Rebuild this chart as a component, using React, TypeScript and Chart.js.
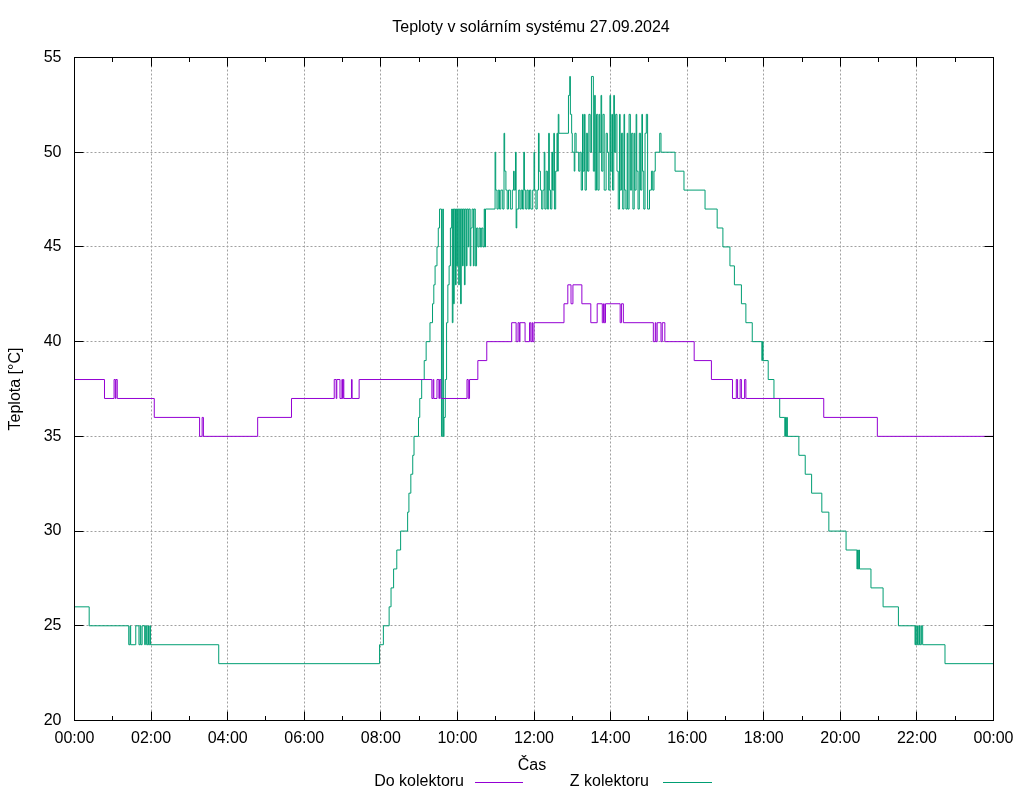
import React, { useEffect, useRef } from "react";
import { Chart, registerables } from "chart.js";

Chart.register(...registerables);

const chartTitle = "Teploty v solárním systému 27.09.2024";
const xAxisTitle = "Čas";
const yAxisTitle = "Teplota [°C]";
const seriesNames = ["Do kolektoru", "Z kolektoru"];
const seriesColors = ["#9400d3", "#009e73"];

const xTickHours = [0, 2, 4, 6, 8, 10, 12, 14, 16, 18, 20, 22, 24];
const xTickLabels = ["00:00", "02:00", "04:00", "06:00", "08:00", "10:00", "12:00", "14:00", "16:00", "18:00", "20:00", "22:00", "00:00"];
const xMinorHours = [1, 3, 5, 7, 9, 11, 13, 15, 17, 19, 21, 23];
const yTickValues = [20, 25, 30, 35, 40, 45, 50, 55];

// "Do kolektoru" – time of change, new value (°C)
const doKolektoru: [string, number][] = [
  ["00:00", 38], ["00:47", 37], ["01:02", 38], ["01:04", 37], ["01:05", 38], ["01:07", 37],
  ["02:05", 36], ["03:16", 35], ["03:20", 36], ["03:22", 35], ["04:47", 36], ["05:40", 37],
  ["06:47", 38], ["06:50", 37], ["06:51", 38], ["06:56", 37], ["06:59", 38], ["07:00", 37],
  ["07:01", 38], ["07:02", 37], ["07:14", 38], ["07:15", 37], ["07:26", 38],
  ["09:20", 37], ["09:22", 38], ["09:23", 37], ["09:28", 38], ["09:31", 37], ["09:32", 38], ["09:34", 37],
  ["10:15", 38], ["10:17", 37], ["10:19", 38], ["10:32", 39], ["10:46", 40],
  ["11:25", 41], ["11:32", 40], ["11:35", 41], ["11:37", 40], ["11:38", 41], ["11:46", 40],
  ["11:53", 41], ["11:55", 40], ["11:57", 41], ["11:58", 40], ["12:00", 41],
  ["12:47", 42], ["12:53", 43], ["12:58", 42], ["13:01", 43], ["13:15", 42], ["13:29", 41],
  ["13:39", 42], ["13:47", 41], ["13:49", 42], ["13:50", 41], ["13:52", 42],
  ["14:15", 41], ["14:17", 42], ["14:20", 41],
  ["15:07", 40], ["15:10", 41], ["15:11", 40], ["15:13", 41], ["15:19", 40], ["15:21", 41], ["15:25", 40],
  ["16:11", 39], ["16:38", 38], ["17:11", 37], ["17:17", 38], ["17:19", 37], ["17:23", 38],
  ["17:25", 37], ["17:30", 38], ["17:32", 37], ["19:34", 36], ["20:58", 35], ["24:00", 35],
];

// "Z kolektoru" – time of change, new value (°C)
const zKolektoru: [string, number][] = [
  ["00:00", 26], ["00:23", 25], ["01:25", 24], ["01:27", 25], ["01:28", 24], ["01:36", 25],
  ["01:41", 24], ["01:43", 25], ["01:44", 24], ["01:46", 25], ["01:50", 24], ["01:51", 25],
  ["01:53", 24], ["01:55", 25], ["01:56", 24], ["01:58", 25], ["01:59", 24],
  ["03:46", 23],
  ["07:58", 24], ["08:04", 25], ["08:13", 26], ["08:16", 27], ["08:20", 28], ["08:25", 29],
  ["08:31", 30], ["08:42", 31], ["08:44", 32], ["08:47", 33], ["08:50", 34], ["08:52", 35],
  ["08:59", 36], ["09:01", 37], ["09:04", 38], ["09:08", 39], ["09:11", 40], ["09:17", 41],
  ["09:21", 42], ["09:23", 43], ["09:25", 44], ["09:28", 45], ["09:30", 46], ["09:32", 47],
  ["09:35", 35], ["09:37", 47], ["09:38", 35], ["09:39", 36], ["09:41", 38], ["09:43", 41],
  ["09:45", 43], ["09:47", 44], ["09:49", 46], ["09:51", 47], ["09:52", 41], ["09:53", 47],
  ["09:54", 42], ["09:55", 47], ["09:57", 43], ["09:58", 47], ["09:59", 44],
  ["10:00", 47], ["10:02", 43], ["10:03", 47], ["10:05", 42], ["10:06", 47], ["10:08", 44],
  ["10:09", 47], ["10:11", 43], ["10:12", 47], ["10:14", 44], ["10:15", 47], ["10:17", 45],
  ["10:18", 47], ["10:20", 44], ["10:21", 46], ["10:23", 47], ["10:25", 44], ["10:26", 47],
  ["10:28", 44], ["10:30", 46], ["10:32", 45], ["10:34", 46], ["10:36", 45], ["10:38", 46],
  ["10:40", 45], ["10:42", 47], ["10:43", 45], ["10:44", 47],
  ["10:59", 50], ["11:00", 48], ["11:02", 47], ["11:04", 48], ["11:06", 47], ["11:08", 48],
  ["11:11", 47], ["11:13", 51], ["11:14", 49], ["11:16", 48], ["11:18", 47], ["11:20", 48],
  ["11:23", 47], ["11:26", 48], ["11:28", 49], ["11:29", 48], ["11:31", 50], ["11:32", 46],
  ["11:33", 47], ["11:36", 48], ["11:38", 47], ["11:40", 48], ["11:42", 47], ["11:44", 50],
  ["11:45", 48], ["11:47", 47], ["11:49", 48], ["11:51", 47], ["11:53", 48], ["11:55", 47],
  ["11:58", 48],
  ["12:00", 50], ["12:01", 48], ["12:03", 47], ["12:05", 48], ["12:07", 51], ["12:08", 49],
  ["12:10", 48], ["12:12", 47], ["12:14", 48], ["12:16", 50], ["12:17", 47], ["12:19", 49],
  ["12:21", 47], ["12:23", 51], ["12:24", 48], ["12:26", 47], ["12:28", 50], ["12:29", 48],
  ["12:31", 51], ["12:32", 47], ["12:34", 49], ["12:36", 51], ["12:37", 49], ["12:38", 52],
  ["12:39", 51], ["12:54", 53], ["12:56", 54], ["12:57", 52], ["12:59", 51],
  ["13:00", 50], ["13:03", 49], ["13:04", 51], ["13:06", 50], ["13:10", 49], ["13:12", 50],
  ["13:14", 48], ["13:16", 52], ["13:17", 49], ["13:19", 52], ["13:20", 48], ["13:22", 51],
  ["13:24", 49], ["13:26", 52], ["13:28", 50], ["13:30", 54], ["13:33", 49], ["13:35", 53],
  ["13:36", 48], ["13:38", 52], ["13:40", 48], ["13:42", 52], ["13:43", 50], ["13:45", 53],
  ["13:46", 49], ["13:48", 52], ["13:50", 48], ["13:53", 51], ["13:55", 50], ["13:57", 48],
  ["13:59", 53],
  ["14:00", 49], ["14:02", 52], ["14:03", 48], ["14:05", 53], ["14:06", 50], ["14:08", 52],
  ["14:10", 49], ["14:12", 47], ["14:14", 52], ["14:15", 48], ["14:17", 51], ["14:19", 47],
  ["14:21", 52], ["14:22", 48], ["14:24", 47], ["14:26", 51], ["14:27", 47], ["14:29", 52],
  ["14:31", 48], ["14:33", 51], ["14:35", 47], ["14:37", 51], ["14:38", 48], ["14:40", 52],
  ["14:41", 49], ["14:43", 47], ["14:45", 51], ["14:47", 48], ["14:49", 52], ["14:50", 49],
  ["14:52", 47], ["14:54", 51], ["14:56", 52], ["14:58", 47],
  ["15:01", 48], ["15:04", 49], ["15:06", 48], ["15:08", 49], ["15:10", 50], ["15:17", 51],
  ["15:19", 50], ["15:41", 49], ["15:55", 48], ["16:28", 47], ["16:47", 46], ["16:56", 45],
  ["17:07", 44], ["17:14", 43], ["17:25", 42], ["17:32", 41], ["17:42", 40], ["17:57", 39],
  ["17:58", 40], ["17:59", 39], ["18:07", 38], ["18:16", 37], ["18:25", 36], ["18:33", 35],
  ["18:34", 36], ["18:35", 35], ["18:36", 36], ["18:37", 35], ["18:55", 34], ["19:05", 33],
  ["19:15", 32], ["19:31", 31], ["19:42", 30], ["20:09", 29], ["20:26", 28], ["20:27", 29],
  ["20:28", 28], ["20:29", 29], ["20:30", 28], ["20:48", 27], ["21:07", 26], ["21:31", 25],
  ["21:57", 24], ["21:58", 25], ["21:59", 24], ["22:01", 25], ["22:02", 24], ["22:04", 25],
  ["22:05", 24], ["22:07", 25], ["22:09", 24], ["22:44", 23], ["24:00", 23],
];

const FONT = "'Liberation Sans', Arial, sans-serif";
const FONT_SIZE = 16;

function toHours(t: string): number {
  const [h, m] = t.split(":").map(Number);
  return h + m / 60;
}

const gnuplotFrame = {
  id: "gnuplotFrame",
  beforeDatasetsDraw(chart: any) {
    const { ctx, chartArea: a, scales } = chart;
    const x = scales.x;
    const y = scales.y;
    ctx.save();
    ctx.strokeStyle = "#a0a0a0";
    ctx.lineWidth = 1;
    ctx.setLineDash([2, 2]);
    ctx.beginPath();
    for (const h of xTickHours) {
      if (h <= x.min || h >= x.max) continue;
      const px = Math.floor(x.getPixelForValue(h)) + 0.5;
      ctx.moveTo(px, a.top);
      ctx.lineTo(px, a.bottom);
    }
    for (const v of yTickValues) {
      if (v <= y.min || v >= y.max) continue;
      const py = Math.floor(y.getPixelForValue(v)) + 0.5;
      ctx.moveTo(a.left, py);
      ctx.lineTo(a.right, py);
    }
    ctx.stroke();
    ctx.restore();
  },
  afterDatasetsDraw(chart: any) {
    const { ctx, chartArea: a, scales } = chart;
    const x = scales.x;
    const y = scales.y;
    ctx.save();
    ctx.strokeStyle = "#000";
    ctx.lineWidth = 1;
    ctx.setLineDash([]);
    ctx.beginPath();
    const major = 9;
    const minor = 4.5;
    for (const h of xTickHours) {
      const px = Math.floor(x.getPixelForValue(h)) + 0.5;
      ctx.moveTo(px, a.bottom);
      ctx.lineTo(px, a.bottom - major);
      ctx.moveTo(px, a.top);
      ctx.lineTo(px, a.top + major);
    }
    for (const h of xMinorHours) {
      const px = Math.floor(x.getPixelForValue(h)) + 0.5;
      ctx.moveTo(px, a.bottom);
      ctx.lineTo(px, a.bottom - minor);
      ctx.moveTo(px, a.top);
      ctx.lineTo(px, a.top + minor);
    }
    for (const v of yTickValues) {
      const py = Math.floor(y.getPixelForValue(v)) + 0.5;
      ctx.moveTo(a.left, py);
      ctx.lineTo(a.left + major, py);
      ctx.moveTo(a.right, py);
      ctx.lineTo(a.right - major, py);
    }
    ctx.stroke();
    ctx.strokeRect(a.left, a.top, a.right - a.left, a.bottom - a.top);
    ctx.restore();
  },
  afterDraw(chart: any) {
    const { ctx } = chart;
    ctx.save();
    ctx.fillStyle = "#000";
    ctx.font = `${FONT_SIZE}px ${FONT}`;
    ctx.textBaseline = "middle";
    ctx.textAlign = "center";
    ctx.fillText(chartTitle, 531, 28);
    ctx.fillText(xAxisTitle, 532, 766);
    ctx.save();
    ctx.translate(16, 389);
    ctx.rotate(-Math.PI / 2);
    ctx.fillText(yAxisTitle, 0, 0);
    ctx.restore();
    // legend
    const entries = [
      { textRight: 464, lineFrom: 475, lineTo: 523 },
      { textRight: 649, lineFrom: 663, lineTo: 712 },
    ];
    entries.forEach((e, i) => {
      ctx.textAlign = "right";
      ctx.fillStyle = "#000";
      ctx.fillText(seriesNames[i], e.textRight, 782);
      ctx.strokeStyle = seriesColors[i];
      ctx.lineWidth = 1;
      ctx.beginPath();
      ctx.moveTo(e.lineFrom, 782.5);
      ctx.lineTo(e.lineTo, 782.5);
      ctx.stroke();
    });
    ctx.restore();
  },
};

export default function App() {
  const canvasRef = useRef<HTMLCanvasElement | null>(null);

  useEffect(() => {
    const canvas = canvasRef.current;
    if (!canvas) return;
    const series = [doKolektoru, zKolektoru];
    const chart = new Chart(canvas, {
      type: "line",
      data: {
        datasets: series.map((s, i) => ({
          label: seriesNames[i],
          data: s.map(([t, v]) => ({ x: toHours(t), y: v })),
          borderColor: seriesColors[i],
          backgroundColor: seriesColors[i],
          borderWidth: 1,
          pointRadius: 0,
          pointHoverRadius: 0,
          stepped: true,
          tension: 0,
          fill: false,
        })),
      },
      options: {
        responsive: false,
        animation: false,
        devicePixelRatio: 1,
        events: [],
        layout: { padding: { top: 57.5, right: 30.5, left: 0, bottom: 0 } },
        plugins: {
          legend: { display: false },
          title: { display: false },
          tooltip: { enabled: false },
        },
        scales: {
          x: {
            type: "linear",
            min: 0,
            max: 24,
            afterBuildTicks: (scale: any) => {
              scale.ticks = xTickHours.map((h) => ({ value: h }));
            },
            afterFit: (scale: any) => {
              scale.height = 79.5;
            },
            grid: { display: false, drawTicks: false, tickLength: 0 },
            border: { display: false },
            ticks: {
              autoSkip: false,
              maxRotation: 0,
              padding: 8,
              color: "#000",
              font: { family: FONT, size: FONT_SIZE },
              callback: (_v: any, i: number) => xTickLabels[i],
            },
          },
          y: {
            type: "linear",
            min: 20,
            max: 55,
            afterBuildTicks: (scale: any) => {
              scale.ticks = yTickValues.map((v) => ({ value: v }));
            },
            afterFit: (scale: any) => {
              scale.width = 74.5;
            },
            grid: { display: false, drawTicks: false, tickLength: 0 },
            border: { display: false },
            ticks: {
              padding: 13,
              color: "#000",
              font: { family: FONT, size: FONT_SIZE },
              callback: (v: any) => String(v),
            },
          },
        },
      },
      plugins: [gnuplotFrame],
    } as any);
    return () => chart.destroy();
  }, []);

  return (
    <div style={{ position: "absolute", left: 0, top: 0, width: 1024, height: 800, background: "#fff" }}>
      <canvas ref={canvasRef} width={1024} height={800} style={{ display: "block" }} />
    </div>
  );
}
